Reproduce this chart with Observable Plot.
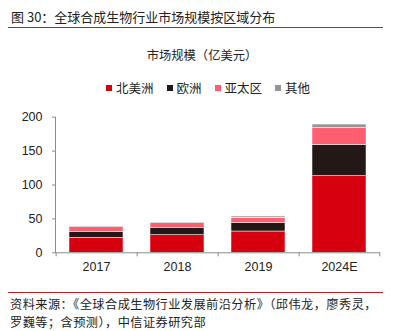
<!DOCTYPE html>
<html><head><meta charset="utf-8">
<script src="https://cdn.jsdelivr.net/npm/d3@7"></script>
<script src="https://cdn.jsdelivr.net/npm/@observablehq/plot@0.6"></script>
<style>
body{margin:0;width:400px;height:331px;position:relative;background:#fff;font-family:"Noto Sans CJK SC","Noto Sans",sans-serif;color:#222;overflow:hidden}
.abs{position:absolute;white-space:nowrap}
#title{left:11px;top:8px;font-size:13px;line-height:18px}
.hr{position:absolute;left:8px;width:375px;height:1px;background:#c0202a}
#sub{left:0;width:404px;text-align:center;top:46px;font-size:12.3px;line-height:18px}
#legend{left:106px;top:79px;font-size:12.5px;line-height:18px;display:flex;gap:0}
#legend span.item{display:inline-flex;align-items:center;margin-right:13px}
#legend i{display:inline-block;width:6px;height:6px;margin-right:4px}
#chart{position:absolute;left:0;top:100px}
.src{left:10px;font-size:12.2px;line-height:18px;letter-spacing:0.45px}
</style></head>
<body>
<div id="title" class="abs">图 30：全球合成生物行业市场规模按区域分布</div>
<div class="hr" style="top:27px"></div>
<div id="sub" class="abs">市场规模（亿美元）</div>
<div id="legend" class="abs"></div>
<div id="chart"></div>
<div class="hr" style="top:292px"></div>
<div class="abs src" style="top:294.5px">资料来源：《全球合成生物行业发展前沿分析》（邱伟龙，廖秀灵，</div>
<div class="abs src" style="top:312.5px">罗巍等；含预测），中信证券研究部</div>
<script>
const years = ["2017", "2018", "2019", "2024E"];
const regions = ["北美洲", "欧洲", "亚太区", "其他"];
const northAmerica = [22, 26, 31.4, 113];
const europe = [8.5, 10.3, 12.3, 46.3];
const asiaPacific = [7.4, 7.4, 7.9, 24.5];
const others = [1, 1, 1.9, 5.4];
const colors = ["#d7000f", "#231815", "#ff5e70", "#969696"];
const yTicks = [0, 50, 100, 150, 200];

const series = [northAmerica, europe, asiaPacific, others];
const data = [];
years.forEach((yr, i) => regions.forEach((r, j) => data.push({year: yr, region: r, value: series[j][i]})));

const leg = document.getElementById("legend");
regions.forEach((r, j) => {
  const s = document.createElement("span");
  s.className = "item";
  s.innerHTML = `<i style="background:${colors[j]}"></i>${r}`;
  leg.appendChild(s);
});

function axes(index, scales) {
  const x = scales.x, y = scales.y;
  const g = d3.create("svg:g").attr("stroke", "#8c8c8c").attr("stroke-width", 1).attr("fill", "none");
  const r = x.range();
  const y0 = y(0), yTop = y(yTicks[yTicks.length - 1]);
  g.append("line").attr("x1", r[0]).attr("x2", r[1]).attr("y1", y0 + 0.5).attr("y2", y0 + 0.5);
  g.append("line").attr("x1", r[0] + 0.5).attr("x2", r[0] + 0.5).attr("y1", yTop).attr("y2", y0 + 0.5);
  const step = x.step(), pin = x.paddingInner();
  const bounds = years.map(yr => x(yr) - pin * step / 2);
  bounds.push(x(years[years.length - 1]) + x.bandwidth() + pin * step / 2);
  bounds.forEach(b => g.append("line").attr("x1", b + 0.5).attr("x2", b + 0.5).attr("y1", y0).attr("y2", y0 + 4));
  return g.node();
}

const chart = Plot.plot({
  width: 400,
  height: 180,
  marginTop: 16.7,
  marginBottom: 27.7,
  marginLeft: 55,
  marginRight: 20,
  style: {fontFamily: "'Liberation Sans', Arial, sans-serif", fontSize: "12.5px", color: "#222", background: "transparent"},
  x: {domain: years, paddingInner: 0.33, paddingOuter: 0.165, axis: null},
  y: {domain: [0, 200], axis: null},
  color: {domain: regions, range: colors},
  marks: [
    Plot.barY(data, Plot.stackY({x: "year", y: "value", fill: "region", order: regions, stroke: "#fff", strokeWidth: 0.5})),
    Plot.axisY(yTicks, {tickSize: 3, tickPadding: 10, stroke: "#8c8c8c", fill: "#222", fontSize: 12.5, label: null}),
    Plot.axisX(years, {tickSize: 0, tickPadding: 9, fill: "#222", fontSize: 12.5, label: null}),
    axes
  ]
});
document.getElementById("chart").appendChild(chart);
</script>
</body></html>
